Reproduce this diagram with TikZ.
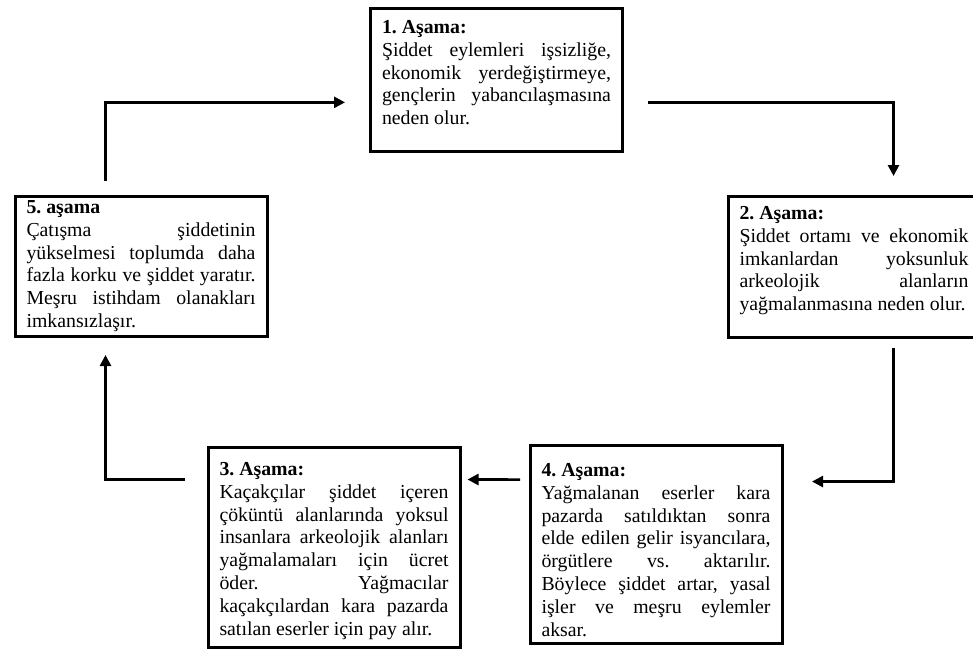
\documentclass[tikz,border=0pt]{standalone}
\usepackage{fontspec}
\setmainfont{Liberation Serif}
\usepackage{tikz}
\usetikzlibrary{arrows.meta}
\tolerance=9999
\hyphenpenalty=10000
\hbadness=10000
\frenchspacing
\newcommand{\stagefont}{\fontsize{19.8}{22.8}\selectfont}
\tikzstyle{stage} = [draw, line width=3pt, anchor=north west, inner xsep=11.5pt, inner ysep=0pt, text width=229pt, align=justify, font=\stagefont]
\tikzstyle{flow} = [line width=2.6pt, -{Triangle[length=11pt,width=11pt]}]

\begin{document}
\begin{tikzpicture}[x=1pt, y=-1pt]
\useasboundingbox (0,0) rectangle (973,654);

% Stages
\node[stage] (s1) at (369,6.5) {\rule{0pt}{25.5pt}\textbf{1. Aşama:}\\
Şiddet eylemleri işsizliğe,\linebreak ekonomik yerdeğiştirmeye,\linebreak gençlerin yabancılaşmasına\linebreak neden olur.\rule[-27pt]{0pt}{0pt}};

\node[stage] (s2) at (726.5,195) {\rule{0pt}{23pt}\textbf{2. Aşama:}\\
Şiddet ortamı ve ekonomik\linebreak imkanlardan yoksunluk\linebreak arkeolojik alanların\linebreak yağmalanmasına neden olur.\rule[-27pt]{0pt}{0pt}};

\node[stage] (s3) at (206.5,445.5) {\rule{0pt}{28.5pt}\textbf{3. Aşama:}\\
Kaçakçılar şiddet içeren\linebreak çöküntü alanlarında yoksul\linebreak insanlara arkeolojik alanları\linebreak yağmalamaları için ücret\linebreak öder. Yağmacılar\linebreak kaçakçılardan kara pazarda\linebreak satılan eserler için pay alır.\rule[-12.4pt]{0pt}{0pt}};

\node[stage] (s4) at (528.5,443.5) {\rule{0pt}{31.5pt}\textbf{4. Aşama:}\\
Yağmalanan eserler kara\linebreak pazarda satıldıktan sonra\linebreak elde edilen gelir isyancılara,\linebreak örgütlere vs. aktarılır.\linebreak Böylece şiddet artar, yasal\linebreak işler ve meşru eylemler\linebreak aksar.\rule[-7pt]{0pt}{0pt}};

\node[stage] (s5) at (13.5,194.5) {\rule{0pt}{17.5pt}\textbf{5. aşama}\\
Çatışma şiddetinin\linebreak yükselmesi toplumda daha\linebreak fazla korku ve şiddet yaratır.\linebreak Meşru istihdam olanakları\linebreak imkansızlaşır.\rule[-9pt]{0pt}{0pt}};

% Cycle arrows
\draw[flow] ([xshift=24pt,yshift=-22.5pt]s1.east) -| ([xshift=39.5pt,yshift=19pt]s2.north);
\draw[flow] ([xshift=39.5pt,yshift=-9pt]s2.south) |- ([xshift=28.5pt,yshift=62.5pt]s4.east);
\draw[flow] ([xshift=-8.5pt,yshift=64.5pt]s4.west) -- ([xshift=6pt,yshift=67.75pt]s3.east);
\draw[flow] ([xshift=-21.5pt,yshift=67.75pt]s3.west) -| ([xshift=-35.5pt,yshift=-17pt]s5.south);
\draw[flow] ([xshift=-35.5pt,yshift=13.5pt]s5.north) |- ([xshift=-24pt,yshift=-22.5pt]s1.west);

\end{tikzpicture}
\end{document}
